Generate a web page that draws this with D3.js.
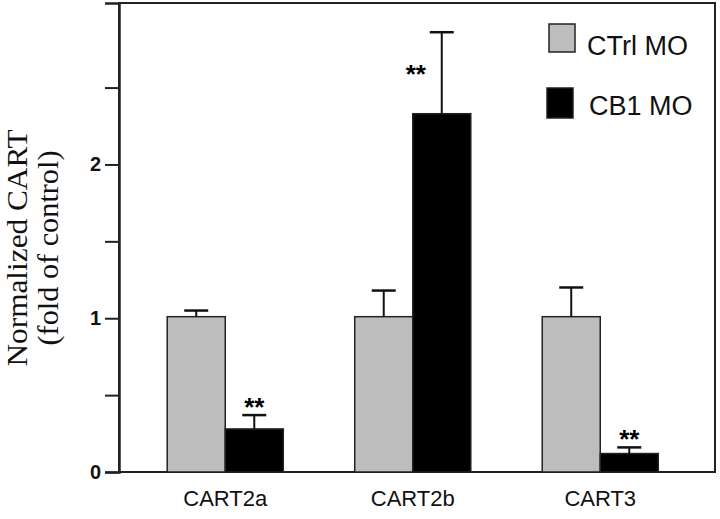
<!DOCTYPE html>
<html>
<head>
<meta charset="utf-8">
<script src="https://cdn.jsdelivr.net/npm/d3@7"></script>
<style>
  html, body { margin: 0; padding: 0; background: #fff; }
  svg { display: block; }
</style>
</head>
<body>
<svg id="chart" width="720" height="519"></svg>
<script>
// ---- data ----
const categories = ["CART2a", "CART2b", "CART3"];
const seriesNames = ["CTrl MO", "CB1 MO"];
const ctrlValues = [1.01, 1.01, 1.01];
const ctrlErrors = [0.04, 0.17, 0.19];
const cb1Values  = [0.28, 2.33, 0.12];
const cb1Errors  = [0.09, 0.53, 0.04];
const significance = ["**", "**", "**"];
const yTickValues = [0, 0.5, 1, 1.5, 2, 2.5];
const yTickLabels = ["0", "", "1", "", "2", ""];
const yTitleLines = ["Normalized CART", "(fold of control)"];

// ---- layout ----
const svg = d3.select("#chart");
const plot = { left: 119, top: 3, right: 715, bottom: 472 };
const colors = ["#bdbdbd", "#000000"];

const y = d3.scaleLinear().domain([0, 3.05]).range([plot.bottom, plot.top]);
const x0 = d3.scaleBand().domain(categories).range([131.5, 694])
  .paddingInner(0.381).paddingOuter(0.1905);
const x1 = d3.scaleBand().domain(seriesNames).range([0, x0.bandwidth()]);

const rows = categories.map((c, i) => ({
  cat: c,
  sig: significance[i],
  bars: [
    { s: seriesNames[0], v: ctrlValues[i], e: ctrlErrors[i], color: colors[0] },
    { s: seriesNames[1], v: cb1Values[i], e: cb1Errors[i], color: colors[1] }
  ]
}));

// frame
svg.append("rect")
  .attr("x", plot.left).attr("y", plot.top)
  .attr("width", plot.right - plot.left).attr("height", plot.bottom - plot.top)
  .attr("fill", "none").attr("stroke", "#222").attr("stroke-width", 2);

// y axis
const yAxis = d3.axisLeft(y).tickValues(yTickValues)
  .tickFormat((d, i) => yTickLabels[i]).tickSize(14).tickPadding(4);
const gy = svg.append("g").attr("transform", `translate(${plot.left},0)`).call(yAxis);
gy.select(".domain").attr("stroke", "#222").attr("stroke-width", 2.5);
gy.selectAll(".tick line").attr("stroke", "#222").attr("stroke-width", 2);
gy.selectAll(".tick text")
  .attr("font-family", "Liberation Sans, Arial, sans-serif")
  .attr("font-size", 20).attr("font-weight", "bold").attr("fill", "#111");

// bars
const groups = svg.append("g").selectAll("g").data(rows).join("g")
  .attr("transform", d => `translate(${x0(d.cat)},0)`);

groups.selectAll("rect").data(d => d.bars).join("rect")
  .attr("x", d => x1(d.s))
  .attr("y", d => y(d.v))
  .attr("width", x1.bandwidth())
  .attr("height", d => y(0) - y(d.v))
  .attr("fill", d => d.color)
  .attr("stroke", "#222").attr("stroke-width", 1.5);

// error bars
const capW = 24;
groups.selectAll("g.err").data(d => d.bars).join("g").attr("class", "err")
  .each(function(d) {
    const g = d3.select(this);
    const cx = x1(d.s) + x1.bandwidth() / 2;
    g.append("line").attr("x1", cx).attr("x2", cx)
      .attr("y1", y(d.v)).attr("y2", y(d.v + d.e))
      .attr("stroke", "#111").attr("stroke-width", 2);
    g.append("line").attr("x1", cx - capW / 2).attr("x2", cx + capW / 2)
      .attr("y1", y(d.v + d.e)).attr("y2", y(d.v + d.e))
      .attr("stroke", "#111").attr("stroke-width", 2.5);
  });

// significance marks on CB1 bars
groups.append("text")
  .attr("font-family", "Liberation Sans, Arial, sans-serif")
  .attr("font-size", 26).attr("font-weight", "bold")
  .attr("text-anchor", "middle")
  .each(function(d) {
    const b = d.bars[1];
    const cx = x1(b.s) + x1.bandwidth() / 2;
    const topY = y(b.v + b.e);
    const t = d3.select(this).text(d.sig);
    if (topY < y(2.6)) {
      // too close to the frame top: place beside the error bar
      t.attr("x", cx - 26).attr("y", (topY + y(b.v)) / 2 + 10);
    } else {
      t.attr("x", cx).attr("y", topY + 1);
    }
  });

// category labels
svg.append("g").selectAll("text").data(categories).join("text")
  .attr("x", d => x0(d) + x0.bandwidth() / 2)
  .attr("y", 506)
  .attr("text-anchor", "middle")
  .attr("font-family", "Liberation Sans, Arial, sans-serif")
  .attr("font-size", 22).attr("fill", "#111")
  .text(d => d);

// y title
const yt = svg.append("g").attr("transform", "translate(0,248) rotate(-90)");
yt.selectAll("text").data(yTitleLines).join("text")
  .attr("x", 0)
  .attr("y", (d, i) => i === 0 ? 27 : 58)
  .attr("text-anchor", "middle")
  .attr("font-family", "Liberation Serif, Times New Roman, serif")
  .attr("font-size", 29).attr("fill", "#111")
  .attr("textLength", (d, i) => i === 0 ? 237 : 195)
  .attr("lengthAdjust", "spacingAndGlyphs")
  .text(d => d);

// legend
const legend = svg.append("g");
const legendItems = seriesNames.map((s, i) => ({ s, color: colors[i], i }));
legend.selectAll("rect").data(legendItems).join("rect")
  .attr("x", d => d.i === 0 ? 549 : 547)
  .attr("y", d => d.i === 0 ? 24 : 88)
  .attr("width", 26).attr("height", d => d.i === 0 ? 28 : 30)
  .attr("fill", d => d.color)
  .attr("stroke", "#222").attr("stroke-width", 1.5);
legend.selectAll("text").data(legendItems).join("text")
  .attr("x", d => d.i === 0 ? 587 : 589)
  .attr("y", d => d.i === 0 ? 55 : 115)
  .attr("font-family", "Liberation Sans, Arial, sans-serif")
  .attr("font-size", 27).attr("fill", "#111")
  .text(d => d.s);
</script>
</body>
</html>
